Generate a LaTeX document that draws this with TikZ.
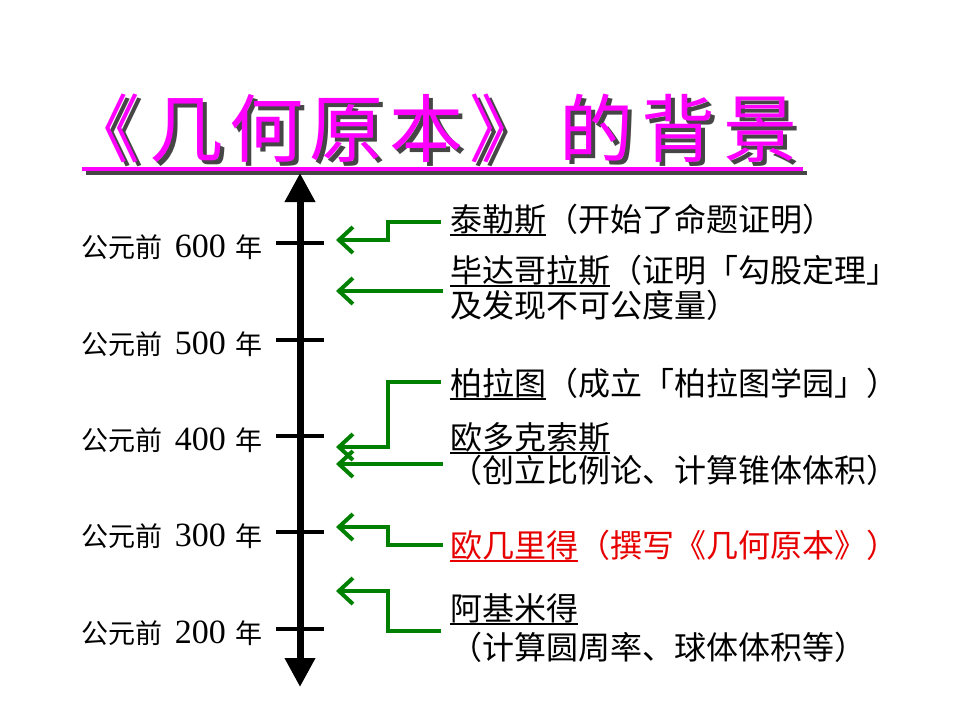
\documentclass[tikz,border=0pt]{standalone}
\usepackage{fontspec}
\setmainfont{Liberation Serif}
\newfontfamily\cjk{Noto Sans CJK SC}
\usetikzlibrary{arrows.meta}
\definecolor{tgreen}{RGB}{0,128,0}
\definecolor{tmag}{RGB}{255,0,255}
\definecolor{tshadow}{RGB}{70,70,70}
\definecolor{tred}{RGB}{230,0,0}
\newcommand\myul[1]{\setbox0\hbox{#1}\rlap{\rule[-5pt]{\wd0}{1.6pt}}\box0}
\newcommand\titlestr{《\hspace{9pt}几\hspace{6pt}何\hspace{6pt}原\hspace{6pt}本\hspace{6pt}》\hspace{16pt}的\hspace{8pt}背\hspace{8pt}景}
\tikzset{
  titletext/.style={inner sep=0pt, anchor=base west, font=\fontsize{74}{78}\selectfont\cjk},
  yearlabel/.style={inner sep=0pt, anchor=base east, font=\fontsize{27}{30}\selectfont\cjk},
  evtext/.style={inner sep=0pt, anchor=base west, font=\fontsize{32}{36}\selectfont\cjk},
  axisline/.style={line width=7pt, {Triangle[length=29pt,width=29pt]}-{Triangle[length=29pt,width=29pt]}},
  tickline/.style={line width=4pt},
  garrow/.style={draw=tgreen, line width=4pt, -{Straight Barb[length=14pt,width=26pt]}},
}
\newcommand\yr[1]{公元前\hspace{12pt}{\fontspec{Liberation Serif}\fontsize{34}{36}\selectfont #1}\hspace{10pt}年}
\begin{document}
\begin{tikzpicture}[x=1pt,y=-1pt]
\useasboundingbox (0,0) rectangle (960,720);
% title
\node[titletext, text=tshadow] (titleshadow) at (70,160) {\titlestr};
\node[titletext, text=tmag] (title) at (66,156) {\titlestr};
\fill[tshadow] (86,171) rectangle (807,175);
\fill[tmag] (82,167) rectangle (803,171);
% axis
\coordinate (axtop) at (300,173);
\coordinate (axbot) at (300,687);
\draw[axisline] (axtop) -- (axbot);
\foreach \y/\n/\t in {243/600/a,340/500/b,436/400/c,532/300/d,629/200/e}{
  \coordinate (tl\t) at (276,\y);
  \coordinate (tr\t) at (324,\y);
  \draw[tickline] (tl\t) -- (tr\t);
  \node[yearlabel] (lab\t) at (263,\y+14) {\yr{\n}};
}
% events
\node[evtext] (n1) at (450,231) {\myul{泰勒斯}（开始了命题证明）};
\node[evtext] (n2a) at (450,282) {\myul{毕达哥拉斯}（证明「勾股定理」};
\node[evtext] (n2b) at (450,317) {及发现不可公度量）};
\node[evtext] (n3) at (450,395) {\myul{柏拉图}（成立「柏拉图学园」）};
\node[evtext] (n4a) at (450,449) {\myul{欧多克索斯}};
\node[evtext] (n4b) at (450,482) {（创立比例论、计算锥体体积）};
\node[evtext, text=tred] (n5) at (450,557) {\myul{欧几里得}（撰写《几何原本》）};
\node[evtext] (n6a) at (450,620) {\myul{阿基米得}};
\node[evtext] (n6b) at (450,659) {（计算圆周率、球体体积等）};
% green connectors
\coordinate (s1) at (441,222); \coordinate (e1) at (336,240);
\coordinate (s2) at (443,291); \coordinate (e2) at (336,291);
\coordinate (s3) at (441,382); \coordinate (e3) at (336,447);
\coordinate (s4) at (443,464); \coordinate (e4) at (336,464);
\coordinate (s5) at (443,545); \coordinate (e5) at (336,527);
\coordinate (s6) at (441,631); \coordinate (e6) at (336,591);
\draw[garrow] (s1) -- (388,222) -- (388,240) -- (e1);
\draw[garrow] (s2) -- (e2);
\draw[garrow] (s3) -- (388,382) -- (388,447) -- (e3);
\draw[garrow] (s4) -- (e4);
\draw[garrow] (s5) -- (388,545) -- (388,527) -- (e5);
\draw[garrow] (s6) -- (388,631) -- (388,591) -- (e6);
\end{tikzpicture}
\end{document}
